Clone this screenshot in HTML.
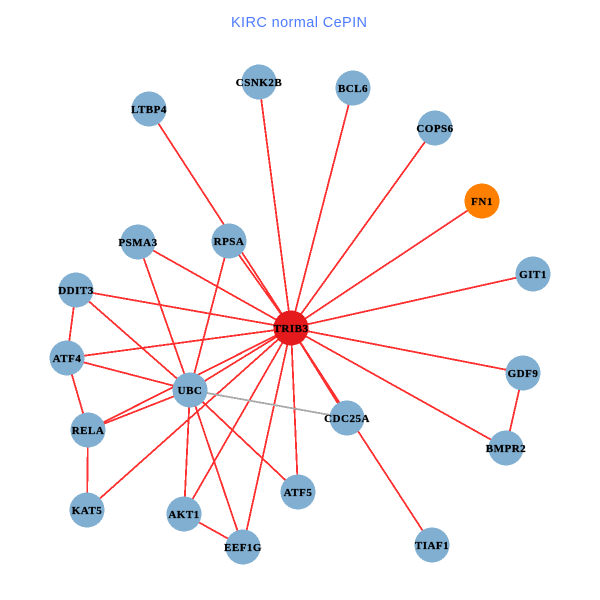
<!DOCTYPE html>
<html><head><meta charset="utf-8"><style>
html,body{margin:0;padding:0;background:#fff}
svg{display:block}
.l{font:bold 11px "Liberation Serif",serif;fill:#000;stroke:#000;stroke-width:.25;text-anchor:middle;letter-spacing:.5px}
</style></head><body>
<svg width="600" height="600" viewBox="0 0 600 600" xmlns="http://www.w3.org/2000/svg">
<rect width="600" height="600" fill="#fff"/>
<text x="231" y="27" textLength="136" lengthAdjust="spacing" style="font:14.5px 'Liberation Sans',sans-serif;fill:#4f7bff">KIRC normal CePIN</text>
<g stroke="#ff3030" stroke-width="1.8" shape-rendering="crispEdges" fill="none">
<path d="M291 328L259 82M291 328L353 88M291 328L435 128M291 328L482 201M291 328L533 274M291 328L523 373M291 328L506 448M291 328L432 545M291 328L347 418M291 328L298 492M291 328L243 547M291 328L184 514M291 328L87 510M291 328L88 430M291 328L190 390M291 328L67 358M291 328L76 290M291 328L138 242M291 328L229 241M291 328L149 109"/>
<path d="M190 390L138 242M190 390L229 241M190 390L76 290M190 390L67 358M190 390L88 430M190 390L184 514M190 390L243 547M190 390L298 492"/>
<path d="M76 290L67 358M67 358L88 430M88 430L87 510M184 514L243 547M523 373L506 448"/>
</g>
<path d="M190 390L347 418" stroke="#aaa" stroke-width="1.8" shape-rendering="crispEdges"/>
<g fill="#80afd2" shape-rendering="crispEdges">
<circle cx="259" cy="82" r="17.5"/><circle cx="353" cy="88" r="17.5"/><circle cx="435" cy="128" r="17.5"/><circle cx="149" cy="109" r="17.5"/><circle cx="533" cy="274" r="17.5"/><circle cx="523" cy="373" r="17.5"/><circle cx="506" cy="448" r="17.5"/><circle cx="347" cy="418" r="17.5"/><circle cx="432" cy="545" r="17.5"/><circle cx="298" cy="492" r="17.5"/><circle cx="243" cy="547" r="17.5"/><circle cx="184" cy="514" r="17.5"/><circle cx="87" cy="510" r="17.5"/><circle cx="88" cy="430" r="17.5"/><circle cx="190" cy="390" r="17.5"/><circle cx="67" cy="358" r="17.5"/><circle cx="76" cy="290" r="17.5"/><circle cx="138" cy="242" r="17.5"/><circle cx="229" cy="241" r="17.5"/>
</g>
<circle cx="482" cy="201" r="17.5" fill="#ff7f00" shape-rendering="crispEdges"/>
<circle cx="291" cy="328" r="17.5" fill="#e41a1c" shape-rendering="crispEdges"/>
<g>
<text class="l" x="259" y="86">CSNK2B</text><text class="l" x="353" y="92">BCL6</text><text class="l" x="435" y="132">COPS6</text><text class="l" x="149" y="113">LTBP4</text><text class="l" x="482" y="205">FN1</text><text class="l" x="533" y="278">GIT1</text><text class="l" x="523" y="377">GDF9</text><text class="l" x="506" y="452">BMPR2</text><text class="l" x="347" y="422">CDC25A</text><text class="l" x="432" y="549">TIAF1</text><text class="l" x="298" y="496">ATF5</text><text class="l" x="243" y="551">EEF1G</text><text class="l" x="184" y="518">AKT1</text><text class="l" x="87" y="514">KAT5</text><text class="l" x="88" y="434">RELA</text><text class="l" x="190" y="394">UBC</text><text class="l" x="67" y="362">ATF4</text><text class="l" x="76" y="294">DDIT3</text><text class="l" x="138" y="246">PSMA3</text><text class="l" x="229" y="245">RPSA</text><text class="l" x="291" y="332">TRIB3</text>
</g>
</svg>
</body></html>
